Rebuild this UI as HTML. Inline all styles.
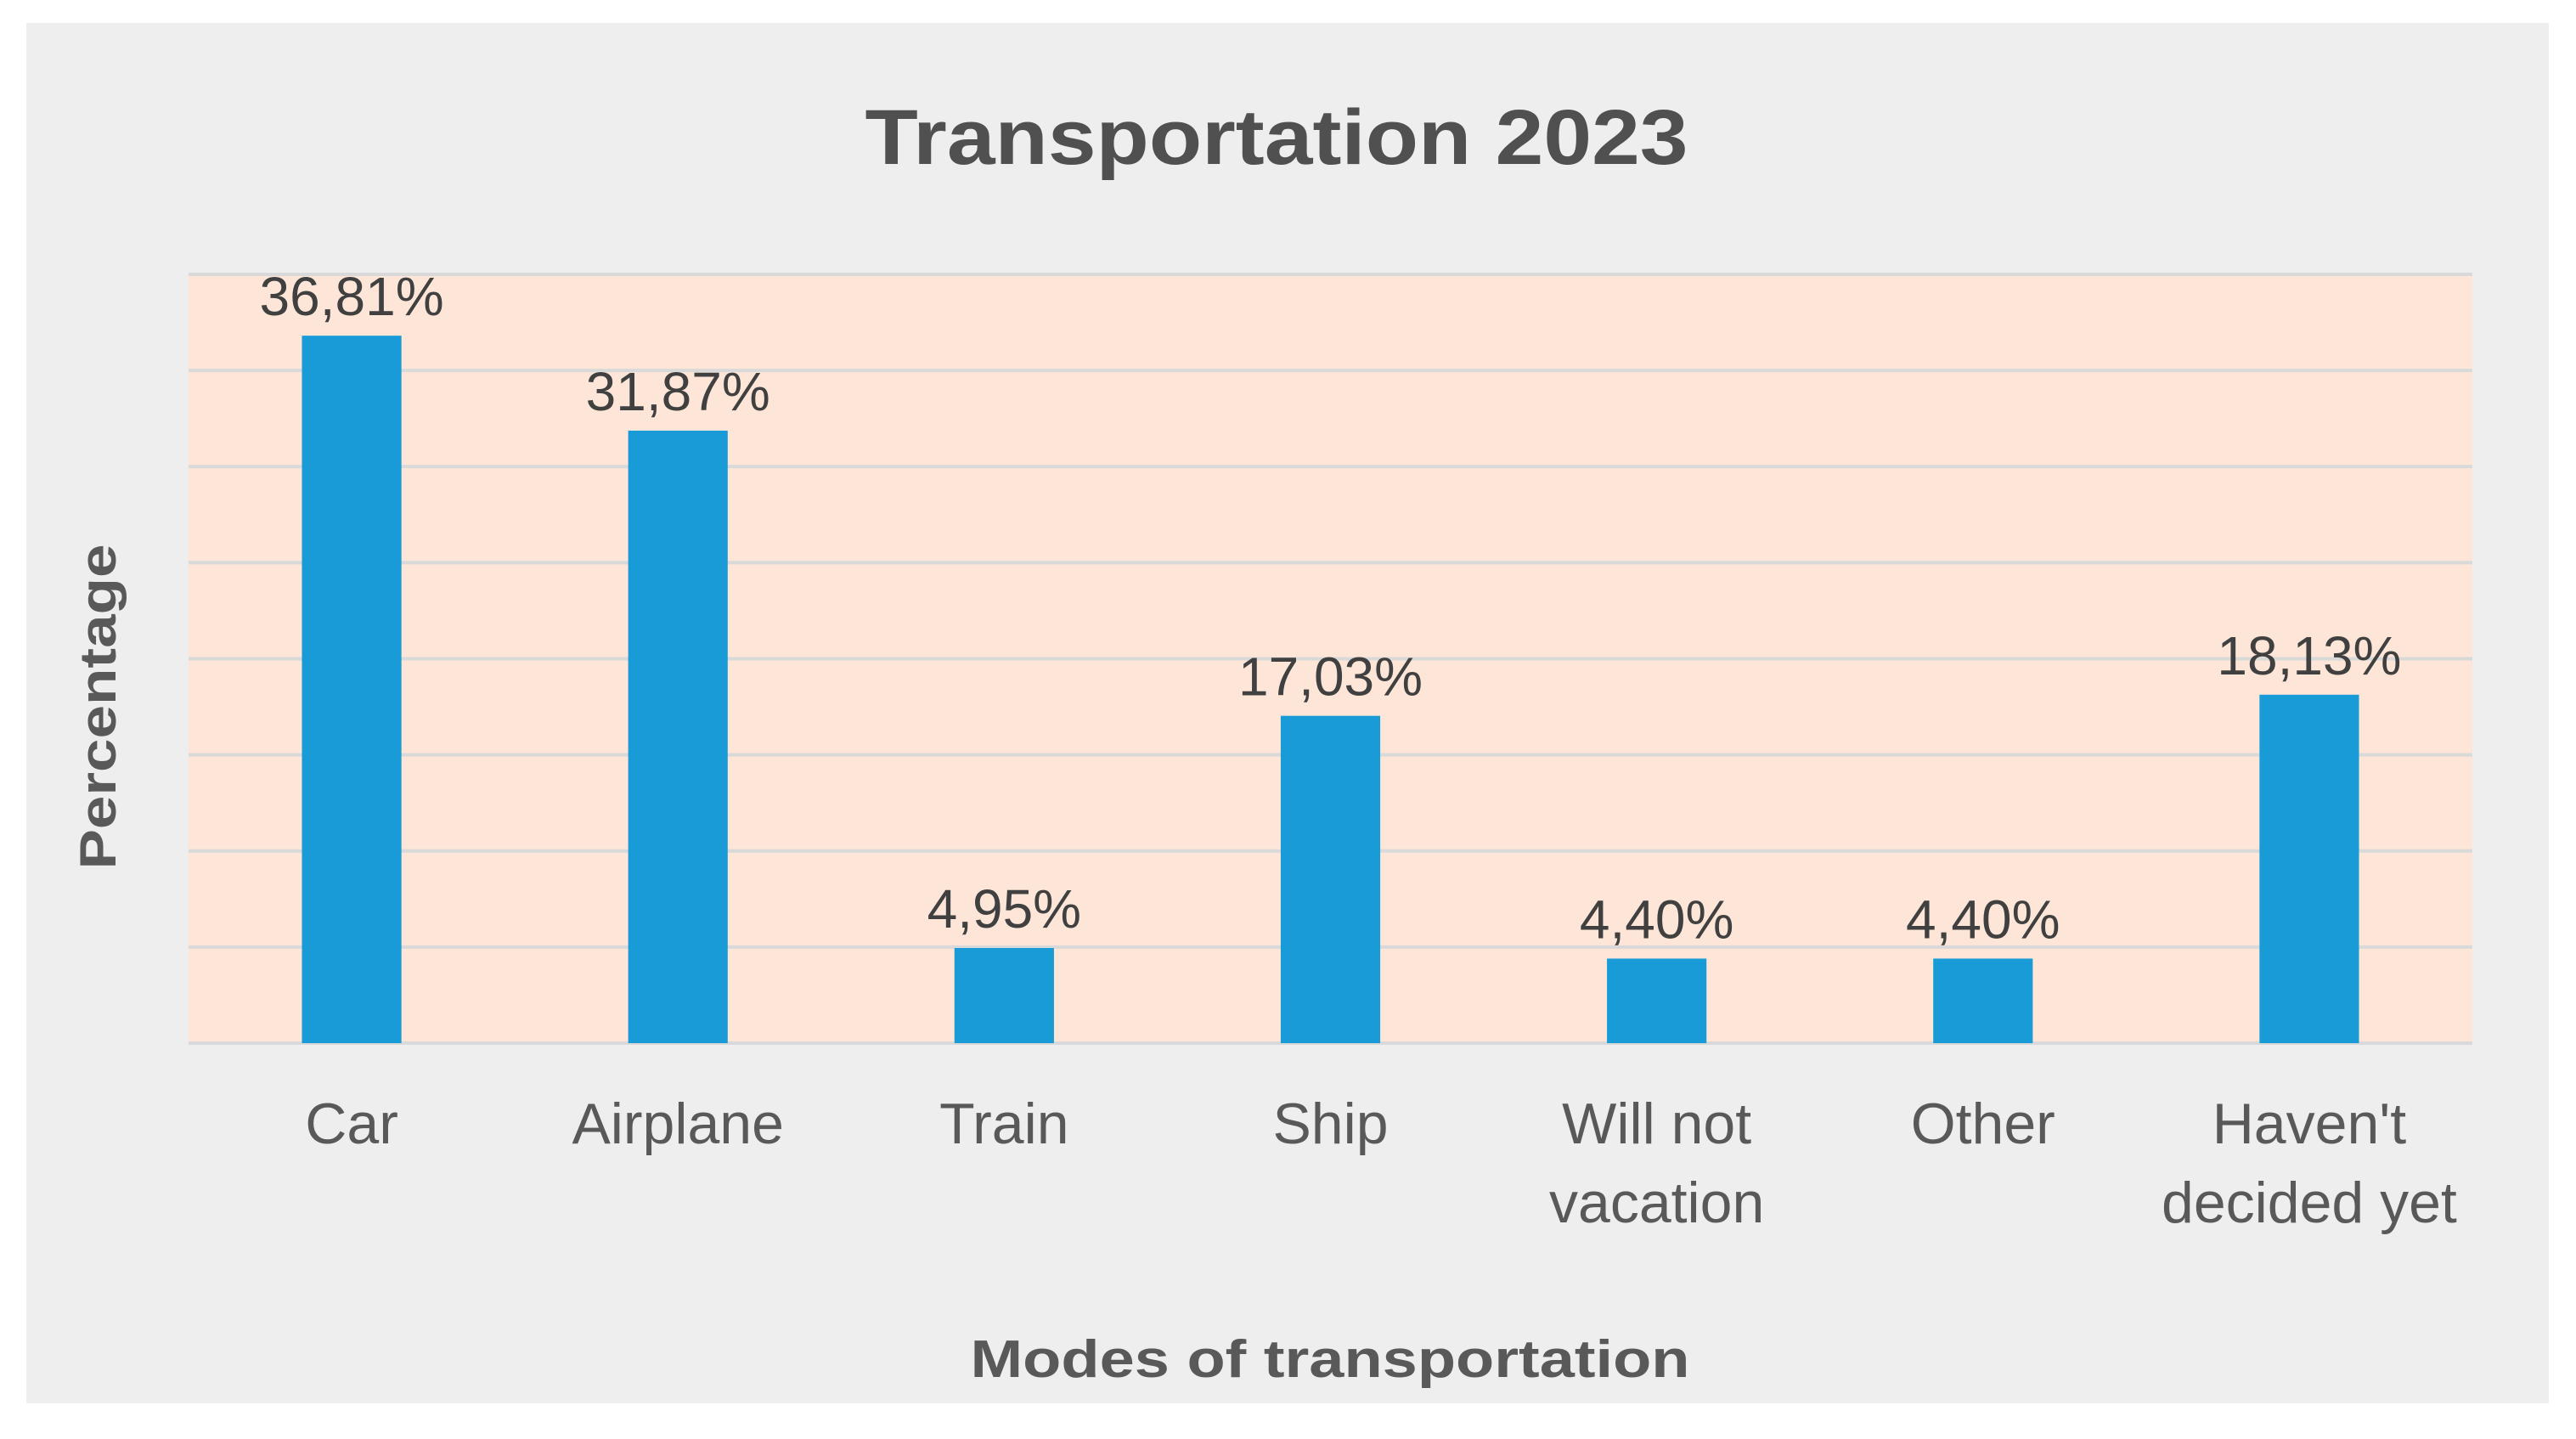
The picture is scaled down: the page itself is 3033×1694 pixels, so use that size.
<!DOCTYPE html>
<html><head><meta charset="utf-8"><style>
html,body{margin:0;padding:0;background:#fff;}
svg{display:block;}
text{font-family:"Liberation Sans",sans-serif;}
</style></head><body>
<svg id="chart" width="3033" height="1694" viewBox="0 0 3033 1694" xmlns="http://www.w3.org/2000/svg">
<rect x="31" y="27" width="2970" height="1625" fill="#eeeeee"/>
<rect x="222" y="323" width="2689" height="905" fill="#fde6d8"/>
<g id="grid"></g>
<g id="bars"></g>
<g id="labels"></g>
<g id="cats"></g>
<text x="1503" y="193" text-anchor="middle" font-size="92" font-weight="bold" fill="#505050" textLength="969" lengthAdjust="spacingAndGlyphs">Transportation 2023</text>
<text x="1566" y="1621" text-anchor="middle" font-size="62" font-weight="bold" fill="#595959" textLength="847" lengthAdjust="spacingAndGlyphs">Modes of transportation</text>
<text transform="translate(136,832) rotate(-90)" text-anchor="middle" font-size="60" font-weight="bold" fill="#595959" textLength="383" lengthAdjust="spacingAndGlyphs">Percentage</text>
</svg>
<script>
const categories = [["Car"],["Airplane"],["Train"],["Ship"],["Will not","vacation"],["Other"],["Haven't","decided yet"]];
const values = [36.81, 31.87, 4.95, 17.03, 4.40, 4.40, 18.13];
const valueLabels = ["36,81%","31,87%","4,95%","17,03%","4,40%","4,40%","18,13%"];
const yTicks = [0,5,10,15,20,25,30,35,40];

const NS="http://www.w3.org/2000/svg";
const L=222,R=2911,T=323,B=1228,YMAX=40;
const y=v=>B-(v/YMAX)*(B-T);
const band=(R-L)/categories.length;
const xc=i=>L+band*(i+0.5);
const bw=band*0.305;
function mk(tag,attrs,parent){const e=document.createElementNS(NS,tag);for(const k in attrs)e.setAttribute(k,attrs[k]);document.getElementById(parent).appendChild(e);return e;}
yTicks.forEach((t,i)=>{
  const l=mk('line',{x1:L,x2:R,y1:y(t),y2:y(t),stroke:'#d9d9d9','stroke-width':4},'grid');
  
  
});
values.forEach((v,i)=>{
  const r=mk('rect',{x:xc(i)-bw/2,y:y(v),width:bw,height:B-y(v),fill:'#189bd7'},'bars');
  
  
  const t=mk('text',{x:xc(i),y:y(v)-24,'text-anchor':'middle','font-size':64,fill:'#404040'},'labels');
  t.textContent=valueLabels[i];
  
  
  categories[i].forEach((line,j)=>{
    const c=mk('text',{x:xc(i),y:1346+j*93,'text-anchor':'middle','font-size':68,fill:'#595959'},'cats');
    c.textContent=line;
    
    
  });
});
</script>
</body></html>
